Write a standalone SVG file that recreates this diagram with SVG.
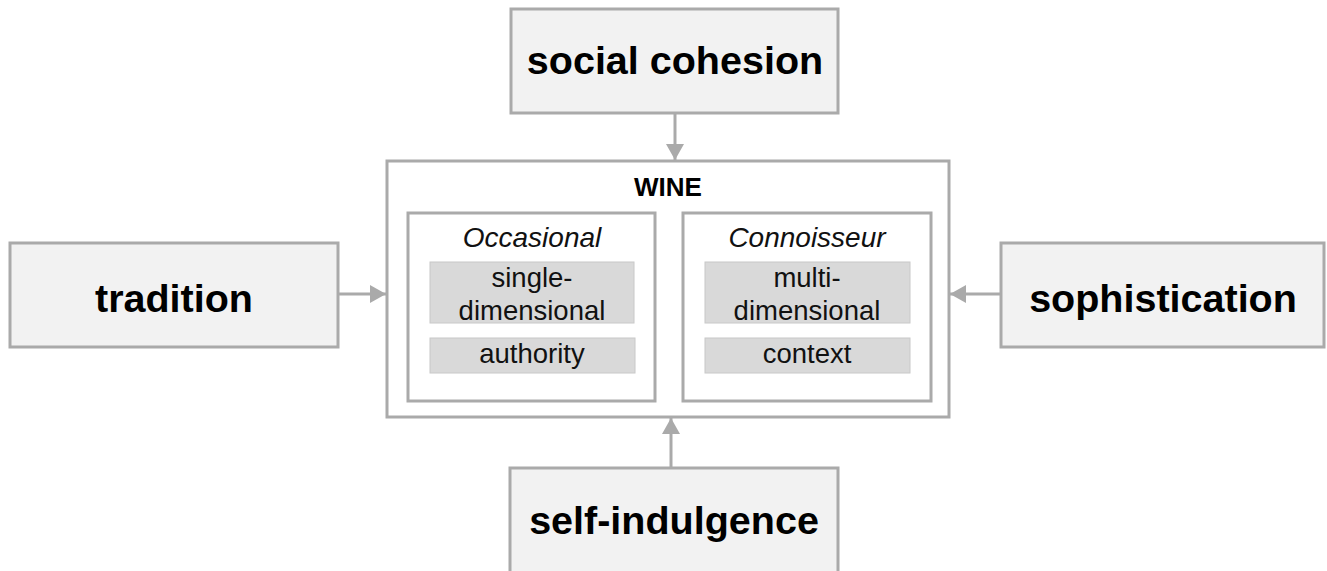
<svg xmlns="http://www.w3.org/2000/svg" width="1327" height="571" viewBox="0 0 1327 571">
<style>
.big{fill:#f2f2f2;stroke:#aaaaaa;stroke-width:3}
.frame{fill:#ffffff;stroke:#aaaaaa;stroke-width:3}
.chip{fill:#d9d9d9;stroke:#c8c8c8;stroke-width:1}
.bt{font-family:"Liberation Sans",Arial,sans-serif;font-weight:bold;font-size:39.5px;fill:#000;text-anchor:middle}
.st{font-family:"Liberation Sans",Arial,sans-serif;font-size:27.5px;fill:#111;text-anchor:middle}
.it{font-style:italic;font-size:28px}
.hd{font-weight:bold;font-size:26px;fill:#000}
.conn{stroke:#aaaaaa;stroke-width:3;fill:none}
</style>
<defs>
<marker id="ah" markerUnits="userSpaceOnUse" markerWidth="18" markerHeight="18" refX="16" refY="9" orient="auto">
<path d="M0,0 L16,9 L0,18 Z" fill="#aaaaaa"/>
</marker>
</defs>
<g id="connectors">
<line class="conn" x1="675" y1="113" x2="675" y2="160" marker-end="url(#ah)"/>
<line class="conn" x1="671" y1="468" x2="671" y2="418" marker-end="url(#ah)"/>
<line class="conn" x1="338" y1="294" x2="386" y2="294" marker-end="url(#ah)"/>
<line class="conn" x1="1001" y1="294" x2="950" y2="294" marker-end="url(#ah)"/>
</g>
<g id="wine">
<rect class="frame" x="387" y="161" width="562" height="256"/>
<text class="st hd" x="668" y="196">WINE</text>
</g>
<g id="occasional">
<rect class="frame" x="408" y="213" width="247" height="188"/>
<text class="st it" x="532" y="247">Occasional</text>
<rect class="chip" x="430" y="262" width="204" height="61"/>
<text class="st" x="532" y="287">single-</text>
<text class="st" x="532" y="320">dimensional</text>
<rect class="chip" x="430" y="338" width="205" height="35"/>
<text class="st" x="532" y="363">authority</text>
</g>
<g id="connoisseur">
<rect class="frame" x="683" y="213" width="248" height="188"/>
<text class="st it" x="807" y="247">Connoisseur</text>
<rect class="chip" x="705" y="262" width="205" height="61"/>
<text class="st" x="807" y="287">multi-</text>
<text class="st" x="807" y="320">dimensional</text>
<rect class="chip" x="705" y="338" width="205" height="35"/>
<text class="st" x="807" y="363">context</text>
</g>
<g id="social-cohesion">
<rect class="big" x="511" y="9" width="327" height="104"/>
<text class="bt" x="675" y="74">social cohesion</text>
</g>
<g id="tradition">
<rect class="big" x="10" y="243" width="328" height="104"/>
<text class="bt" x="174" y="312">tradition</text>
</g>
<g id="sophistication">
<rect class="big" x="1001" y="243" width="323" height="104"/>
<text class="bt" x="1163" y="312">sophistication</text>
</g>
<g id="self-indulgence">
<rect class="big" x="510" y="468" width="328" height="120"/>
<text class="bt" x="674" y="534">self-indulgence</text>
</g>
</svg>
